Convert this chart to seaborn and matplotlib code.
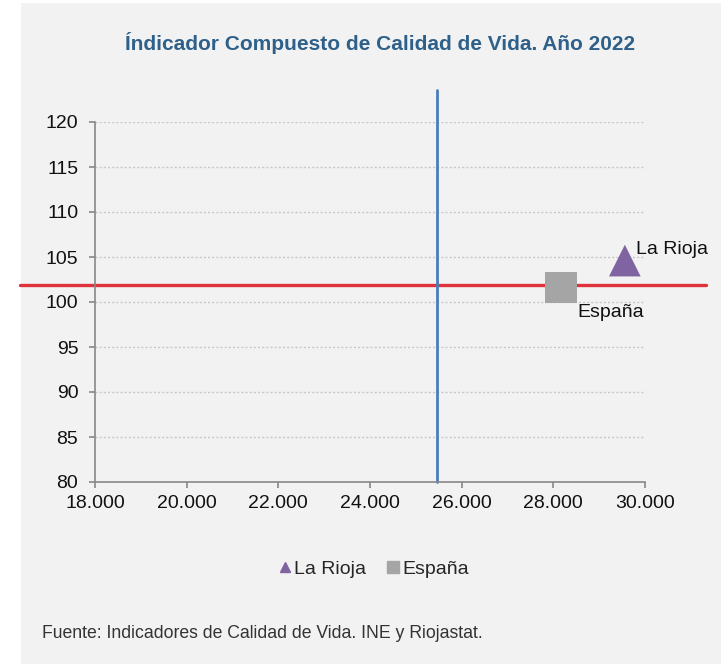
import numpy as np
import pandas as pd
import matplotlib
matplotlib.use("Agg")
import matplotlib.pyplot as plt
from matplotlib.patches import Rectangle
from matplotlib.lines import Line2D
from matplotlib.ticker import FuncFormatter
import seaborn as sns

# Datos
regiones = ["La Rioja", "España"]
renta = [29560, 28170]          # eje X
indice = [104.6, 101.6]         # eje Y
media_x = 25460
media_y = 101.9

colores = {"La Rioja": "#8064a2", "España": "#a5a5a5"}
marcadores = {"La Rioja": "^", "España": "s"}

df = pd.DataFrame({"region": regiones, "renta": renta, "indice": indice})

sns.set_theme(style="white")
plt.rcParams["font.family"] = ["Liberation Sans", "DejaVu Sans"]

fondo = "#f2f2f2"
fig = plt.figure(figsize=(7.26, 6.64), dpi=100)
fig.patch.set_facecolor("white")
fig.patches.append(Rectangle((21 / 726, 0), 700 / 726, 1 - 3 / 664,
                             transform=fig.transFigure, facecolor=fondo,
                             edgecolor="none", zorder=-10))

ax = fig.add_axes([95 / 726, 1 - 482 / 664, 550 / 726, 360 / 664])
ax.set_facecolor(fondo)

sns.scatterplot(data=df, x="renta", y="indice", hue="region", style="region",
                palette=colores, markers=marcadores, s=520, edgecolor="none",
                legend=False, ax=ax, zorder=3, clip_on=False)

# Líneas de referencia
ax.axhline(media_y, xmin=-0.136, xmax=1.111, color="#e0323a", lw=2.4,
           clip_on=False, zorder=2)
ax.axvline(media_x, ymin=0, ymax=1.089, color="#4a7ebb", lw=2.0,
           clip_on=False, zorder=2)

# Etiquetas
ax.annotate("La Rioja", (renta[0], indice[0]), xytext=(8, 8),
            textcoords="offset points", fontsize=14, ha="left", va="center",
            color="#111111")
ax.annotate("España", (renta[1], indice[1]), xytext=(12, -18),
            textcoords="offset points", fontsize=14, ha="left", va="center",
            color="#111111")

ax.set_xlim(18000, 30000)
ax.set_ylim(80, 120)
ax.set_xticks(np.arange(18000, 30001, 2000))
ax.set_yticks(np.arange(80, 121, 5))
ax.xaxis.set_major_formatter(FuncFormatter(lambda v, p: f"{int(v):,}".replace(",", ".")))
ax.set_xlabel("")
ax.set_ylabel("")

for y in range(85, 121, 5):
    ax.axhline(y, color="#c8c8c8", lw=1, ls=(0, (1.5, 1.5)), zorder=1)

for s in ["top", "right"]:
    ax.spines[s].set_visible(False)
for s in ["left", "bottom"]:
    ax.spines[s].set_color("#888888")
    ax.spines[s].set_linewidth(1.2)
ax.tick_params(axis="both", which="major", length=4, width=1.2, color="#888888",
               labelsize=14, labelcolor="#111111", direction="out")
ax.tick_params(axis="x", bottom=True, pad=5)
ax.tick_params(axis="y", left=True, pad=8)

fig.text(380 / 726, 1 - 43 / 664, "Índicador Compuesto de Calidad de Vida. Año 2022",
         ha="center", va="center", fontsize=15, fontweight="bold", color="#2e6089")

handles = [Line2D([], [], marker="^", color=colores["La Rioja"], ls="none", markersize=7),
           Line2D([], [], marker="s", color=colores["España"], ls="none", markersize=8)]
fig.legend(handles, regiones, loc="center", bbox_to_anchor=(373 / 726, 1 - 569 / 664),
           ncol=2, frameon=False, fontsize=14, handletextpad=0.05, columnspacing=1.0,
           handlelength=0.8)

fig.text(42 / 726, 1 - 634 / 664, "Fuente: Indicadores de Calidad de Vida. INE y Riojastat.",
         ha="left", va="center", fontsize=12.7, color="#333333")

fig.savefig("out.png", dpi=100, facecolor=fig.get_facecolor())
